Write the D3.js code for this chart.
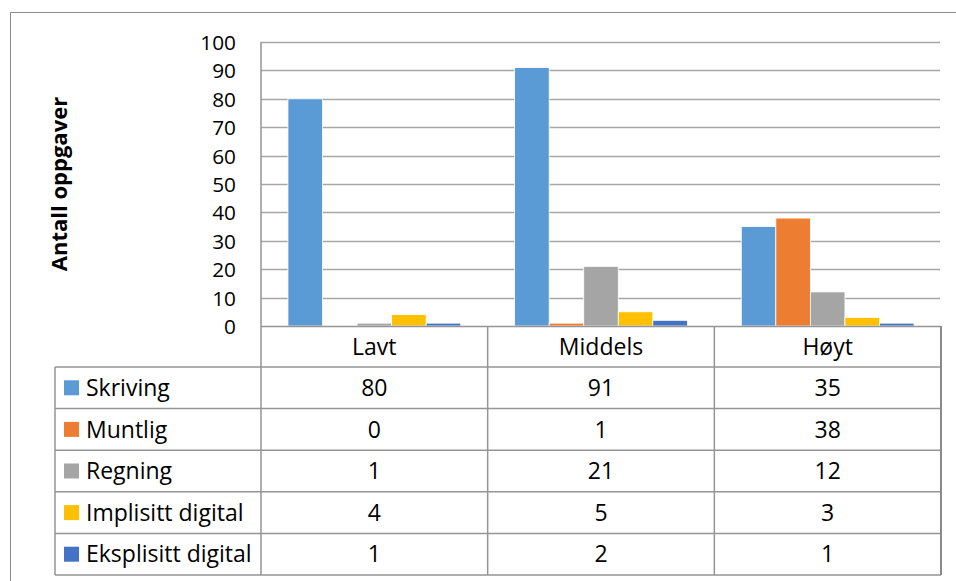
<!DOCTYPE html>
<html>
<head>
<meta charset="utf-8">
<script src="https://cdn.jsdelivr.net/npm/d3@7"></script>
<style>
  html, body { margin: 0; padding: 0; background: #fff; }
  svg { display: block; }
  text { font-family: "Open Sans", Carlito, Calibri, sans-serif; fill: #000; }
</style>
</head>
<body>
<svg id="chart" width="956" height="581"></svg>
<script>
// Number of tasks per level, by kind of skill
const categories = ["Lavt", "Middels", "Høyt"];
const seriesNames = ["Skriving", "Muntlig", "Regning", "Implisitt digital", "Eksplisitt digital"];
const skriving = [80, 91, 35];
const muntlig = [0, 1, 38];
const regning = [1, 21, 12];
const implisittDigital = [4, 5, 3];
const eksplisittDigital = [1, 2, 1];
const yTicks = [0, 10, 20, 30, 40, 50, 60, 70, 80, 90, 100];
const yTitle = "Antall oppgaver";

const seriesValues = [skriving, muntlig, regning, implisittDigital, eksplisittDigital];
const colors = ["#5B9BD5", "#ED7D31", "#A5A5A5", "#FFC000", "#4472C4"];

const svg = d3.select("#chart");
const gridColor = "#A6A6A6";
const lineColor = "#959595";
const fontSize = 23;
const tickFontSize = 20.8;

// Layout
const plot = { left: 261, right: 941, top: 42, bottom: 326 };
const tableLeft = 55;
const headerBottom = 367;
const rowH = 41.6;

const x = d3.scaleBand().domain(categories).range([plot.left, plot.right]).paddingInner(0).paddingOuter(0);
const xs = d3.scaleBand().domain(seriesNames).range([0, x.bandwidth()]).paddingInner(0).paddingOuter(0.78);
const y = d3.scaleLinear().domain([0, 100]).range([plot.bottom, plot.top]);

// Outer chart frame
svg.append("path")
  .attr("d", `M10.5,581 V12.5 H956`)
  .attr("fill", "none").attr("stroke", "#8C8C8C").attr("stroke-width", 1);

// Gridlines
svg.append("g").selectAll("line").data(yTicks.filter(d => d > 0)).join("line")
  .attr("x1", plot.left).attr("x2", plot.right - 1)
  .attr("y1", d => Math.round(y(d)) + 0.5).attr("y2", d => Math.round(y(d)) + 0.5)
  .attr("stroke", gridColor).attr("stroke-width", 1.5);

// Y axis labels
const yAxis = d3.axisLeft(y).tickValues(yTicks).tickSize(0).tickPadding(0).tickFormat(d3.format("d"));
const ya = svg.append("g").attr("transform", `translate(236,0)`).call(yAxis);
ya.select(".domain").remove();
ya.selectAll("text").attr("font-size", tickFontSize).attr("font-family", "'Open Sans', Carlito, Calibri, sans-serif").attr("fill", "#000").attr("dy", "0.36em");

// Y title
svg.append("text")
  .attr("transform", `translate(67,${(plot.top + plot.bottom) / 2}) rotate(-90)`)
  .attr("text-anchor", "middle")
  .attr("font-size", 22).attr("font-weight", "bold")
  .text(yTitle);

// Bars
const groups = svg.append("g").selectAll("g").data(categories).join("g")
  .attr("transform", c => `translate(${x(c)},0)`);
groups.selectAll("rect")
  .data((c, ci) => seriesNames.map((s, si) => ({ s, si, v: seriesValues[si][ci] })))
  .join("rect")
  .filter(d => d.v > 0)
  .attr("x", d => xs(d.s))
  .attr("width", xs.bandwidth())
  .attr("y", d => y(d.v))
  .attr("height", d => y(0) - y(d.v))
  .attr("fill", d => colors[d.si])
  .attr("stroke", "#fff").attr("stroke-width", 0.8);

// Data table
const tbl = svg.append("g");
const rowsTop = headerBottom;
const tableBottom = rowsTop + rowH * seriesNames.length;

// Horizontal lines
tbl.append("line").attr("x1", plot.left).attr("x2", plot.right).attr("y1", plot.bottom + 0.5).attr("y2", plot.bottom + 0.5)
  .attr("stroke", lineColor).attr("stroke-width", 1.5);
d3.range(seriesNames.length + 1).forEach(i => {
  const yy = rowsTop + i * rowH;
  tbl.append("line").attr("x1", tableLeft).attr("x2", plot.right).attr("y1", yy).attr("y2", yy)
    .attr("stroke", lineColor).attr("stroke-width", 1.5);
});
// Vertical lines
tbl.append("line").attr("x1", tableLeft).attr("x2", tableLeft).attr("y1", rowsTop).attr("y2", tableBottom)
  .attr("stroke", lineColor).attr("stroke-width", 1.5);
tbl.append("line").attr("x1", plot.left).attr("x2", plot.left).attr("y1", plot.top).attr("y2", tableBottom)
  .attr("stroke", lineColor).attr("stroke-width", 1.5);
categories.forEach((c, i) => {
  const xx = x(c) + x.bandwidth();
  tbl.append("line").attr("x1", xx).attr("x2", xx).attr("y1", plot.bottom).attr("y2", tableBottom)
    .attr("stroke", i === categories.length - 1 ? "#8A8A8A" : lineColor).attr("stroke-width", i === categories.length - 1 ? 2 : 1.5);
});

// Category header
tbl.selectAll("text.cat").data(categories).join("text")
  .attr("class", "cat")
  .attr("x", c => x(c) + x.bandwidth() / 2)
  .attr("y", (plot.bottom + headerBottom) / 2)
  .attr("dy", "0.36em")
  .attr("text-anchor", "middle").attr("font-size", fontSize)
  .text(c => c);

// Series rows: legend key, name, values
seriesNames.forEach((s, si) => {
  const cy = rowsTop + si * rowH + rowH / 2;
  tbl.append("rect").attr("x", 64).attr("y", cy - 7.5).attr("width", 15).attr("height", 15).attr("fill", colors[si]);
  tbl.append("text").attr("x", 86).attr("y", cy).attr("dy", "0.36em").attr("font-size", fontSize).text(s);
  categories.forEach((c, ci) => {
    tbl.append("text")
      .attr("x", x(c) + x.bandwidth() / 2).attr("y", cy).attr("dy", "0.36em")
      .attr("text-anchor", "middle").attr("font-size", fontSize)
      .text(seriesValues[si][ci]);
  });
});
</script>
</body>
</html>
